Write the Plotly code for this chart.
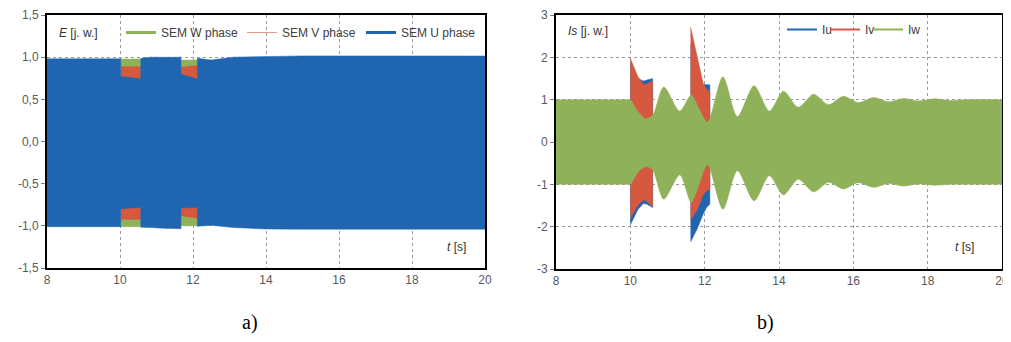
import plotly.graph_objects as go

# ---------------- data: panel a (EMF envelopes) ----------------
x_ticks = [8, 10, 12, 14, 16, 18, 20]
x_ticktext = ["8", "10", "12", "14", "16", "18", "20"]
ya_ticks = [-1.5, -1.0, -0.5, 0.0, 0.5, 1.0, 1.5]
ya_ticktext = ["-1,5", "-1,0", "-0,5", "0,0", "0,5", "1,0", "1,5"]
yb_ticks = [-3, -2, -1, 0, 1, 2, 3]
yb_ticktext = ["-3", "-2", "-1", "0", "1", "2", "3"]

# U phase (full envelope)
t_u = [8, 10.02, 10.02, 10.57, 10.57, 10.85, 11.2, 11.6, 11.67, 11.67, 12.12, 12.12, 12.3, 12.5, 13.1, 14.0, 15.0, 20]
u_up = [0.98, 0.98, 0.77, 0.745, 0.986, 1.0, 0.998, 1.0, 1.0, 0.797, 0.74, 0.986, 0.975, 0.966, 1.0, 1.01, 1.015, 1.014]
u_lo = [-1.01, -1.01, -0.797, -0.78, -1.017, -1.02, -1.03, -1.034, -1.034, -0.79, -0.78, -1.006, -1.0, -0.994, -1.02, -1.038, -1.04, -1.04]

# V phase (visible in the two dips)
v_t1 = [10.02, 10.57]
v_up1 = [0.887, 0.887]
v_lo1 = [-0.923, -0.923]
v_t2 = [11.67, 12.12]
v_up2 = [0.88, 0.90]
v_lo2 = [-0.88, -0.91]

# W phase (visible in the two dips)
w_t1 = [10.02, 10.57]
w_up1 = [0.978, 0.978]
w_lo1 = [-1.01, -1.01]
w_t2 = [11.67, 12.12]
w_up2 = [0.966, 0.966]
w_lo2 = [-1.0, -1.0]

# ---------------- data: panel b (stator current envelopes) ----------------
t_iw = [8, 9.0, 9.9, 10.0, 10.2, 10.42, 10.6, 10.9, 11.33, 11.64, 11.85, 12.08, 12.49, 12.88, 13.33, 13.74, 14.12, 14.52,
        14.93, 15.33, 15.73, 16.13, 16.55, 16.95, 17.35, 17.75, 18.2, 18.6, 19.0, 20]
iw_up = [1.0, 1.0, 1.0, 1.0, 0.72, 0.55, 0.63, 1.3, 0.73, 1.11, 0.78, 0.47, 1.54, 0.6, 1.33, 0.73, 1.2, 0.82,
         1.13, 0.88, 1.08, 0.93, 1.05, 0.95, 1.03, 0.97, 1.02, 0.98, 1.0, 1.0]
iw_lo = [-1.0, -1.0, -1.0, -1.0, -0.72, -0.58, -0.66, -1.35, -0.78, -1.43, -1.0, -0.54, -1.59, -0.68, -1.39, -0.8, -1.25, -0.88,
         -1.18, -0.95, -1.11, -0.96, -1.07, -0.98, -1.04, -0.99, -1.02, -1.0, -1.0, -1.0]

t_s1 = [10.0, 10.2, 10.35, 10.45, 10.6]
t_s2 = [11.62, 11.8, 11.96, 12.05, 12.14]
iv_up1 = [1.98, 1.55, 1.36, 1.37, 1.45]
iv_lo1 = [-1.80, -1.5, -1.37, -1.40, -1.54]
iv_up2 = [2.72, 2.0, 1.38, 1.25, 1.19]
iv_lo2 = [-1.84, -1.6, -1.25, -1.15, -1.12]
iu_up1 = [1.9, 1.5, 1.44, 1.47, 1.5]
iu_lo1 = [-1.96, -1.6, -1.45, -1.47, -1.55]
iu_up2 = [2.3, 1.7, 1.36, 1.36, 1.35]
iu_lo2 = [-2.36, -2.05, -1.7, -1.55, -1.47]

BLUE = "#1F65B0"
RED = "#D5583F"
GREEN = "#8EB159"
LIGHTRED = "#E49A8C"

# page is 1011x342 but the html body has an 8px margin (keep the page free of scrollbars)
OFF = 8
FW, FH = 1011 - OFF, 342 - 2 * OFF


def px(x):
    return (x - OFF) / FW


def py(y):
    return 1 - (y - OFF) / FH


def poly(t, up, lo):
    return list(t) + list(t)[::-1], list(up) + list(lo)[::-1]


fig = go.Figure()


def band(t, up, lo, color, xa, ya):
    x, y = poly(t, up, lo)
    fig.add_trace(go.Scatter(x=x, y=y, mode="lines", fill="toself", fillcolor=color,
                             line=dict(color=color, width=0.5), showlegend=False,
                             hoverinfo="skip", xaxis=xa, yaxis=ya))


# panel a : W, V, then U on top
band(w_t1, w_up1, w_lo1, GREEN, "x", "y")
band(w_t2, w_up2, w_lo2, GREEN, "x", "y")
band(v_t1, v_up1, v_lo1, RED, "x", "y")
band(v_t2, v_up2, v_lo2, RED, "x", "y")
band(t_u, u_up, u_lo, BLUE, "x", "y")

# panel b : U, V, then W on top
band(t_s1, iu_up1, iu_lo1, BLUE, "x2", "y2")
band(t_s2, iu_up2, iu_lo2, BLUE, "x2", "y2")
band(t_s1, iv_up1, iv_lo1, RED, "x2", "y2")
band(t_s2, iv_up2, iv_lo2, RED, "x2", "y2")
fig.add_trace(go.Scatter(x=t_iw, y=iw_lo, mode="lines", line=dict(color=GREEN, width=0.5, shape="spline", smoothing=0.8),
                         showlegend=False, hoverinfo="skip", xaxis="x2", yaxis="y2"))
fig.add_trace(go.Scatter(x=t_iw, y=iw_up, mode="lines", fill="tonexty", fillcolor=GREEN,
                         line=dict(color=GREEN, width=0.5, shape="spline", smoothing=0.8),
                         showlegend=False, hoverinfo="skip", xaxis="x2", yaxis="y2"))

# legend entries (one small legend box per entry, so each sits where the reference has it)
leg_font = dict(family="Liberation Sans, Arial, sans-serif", size=12, color="#404040")
legend_items = [
    ("SEM W phase", GREEN, 3, "x", "y", "legend", 121, 18),
    ("SEM V phase", LIGHTRED, 1, "x", "y", "legend3", 242, 18),
    ("SEM U phase", BLUE, 3, "x", "y", "legend4", 361, 18),
    ("Iu", BLUE, 2, "x2", "y2", "legend2", 782, 15),
    ("Iv", RED, 2, "x2", "y2", "legend5", 825, 15),
    ("Iw", GREEN, 2, "x2", "y2", "legend6", 868, 15),
]
legend_layout = {}
for name, col, wd, xa, ya, lg, lx, ly in legend_items:
    fig.add_trace(go.Scatter(x=[None], y=[None], mode="lines", name=name, line=dict(color=col, width=wd),
                             xaxis=xa, yaxis=ya, legend=lg))
    legend_layout[lg] = dict(orientation="h", x=px(lx), y=py(ly), xanchor="left", yanchor="top",
                             bgcolor="rgba(0,0,0,0)", font=leg_font, itemwidth=30)

tickfont = dict(family="Liberation Sans, Arial, sans-serif", size=12, color="#595959")
axis_common = dict(showline=True, linecolor="black", linewidth=2, mirror=True, zeroline=False, automargin=False,
                   showgrid=True, gridcolor="#9a9a9a", griddash="dot", gridwidth=1, tickfont=tickfont)

fig.update_layout(
    width=FW, height=FH, margin=dict(l=0, r=0, t=0, b=0, autoexpand=False),
    paper_bgcolor="white", plot_bgcolor="white",
    xaxis=dict(domain=[px(47), px(485)], range=[8, 20], tickvals=x_ticks, ticktext=x_ticktext,
               anchor="y", ticks="", ticklabeloverflow="allow", **axis_common),
    yaxis=dict(domain=[py(268), py(15)], range=[-1.5, 1.5], tickvals=ya_ticks, ticktext=ya_ticktext,
               anchor="x", ticks="outside", ticklen=4, tickcolor="#808080", **axis_common),
    xaxis2=dict(domain=[px(556), px(1002)], range=[8, 20], tickvals=x_ticks, ticktext=x_ticktext,
                anchor="y2", ticks="", ticklabeloverflow="allow", **axis_common),
    yaxis2=dict(domain=[py(269), py(15)], range=[-3, 3], tickvals=yb_ticks, ticktext=yb_ticktext,
                anchor="x2", ticks="outside", ticklen=4, tickcolor="#808080", **axis_common),
    showlegend=True,
    **legend_layout,
)

lab_font = dict(family="Liberation Sans, Arial, sans-serif", size=12, color="#333333")
annots = [
    dict(text="<i>E</i> [j. w.]", x=px(57), y=py(33), xanchor="left", yanchor="middle", font=lab_font),
    dict(text="<i>Is</i> [j. w.]", x=px(566), y=py(31), xanchor="left", yanchor="middle", font=lab_font),
    dict(text="<i>t</i> [s]", x=px(468), y=py(247), xanchor="right", yanchor="middle", font=lab_font),
    dict(text="<i>t</i> [s]", x=px(976), y=py(247), xanchor="right", yanchor="middle", font=lab_font),
    dict(text="a)", x=px(250), y=py(322), xanchor="center", yanchor="middle",
         font=dict(family="Liberation Serif, Times New Roman, serif", size=20, color="black")),
    dict(text="b)", x=px(765), y=py(322), xanchor="center", yanchor="middle",
         font=dict(family="Liberation Serif, Times New Roman, serif", size=20, color="black")),
]
for a in annots:
    fig.add_annotation(xref="paper", yref="paper", showarrow=False, **a)

fig.write_html("out.html", default_width=f"{FW}px", default_height=f"{FH}px")
